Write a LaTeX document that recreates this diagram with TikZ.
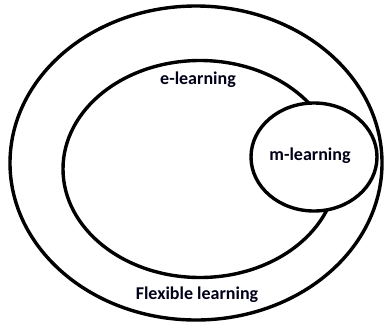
\documentclass[tikz,border=0pt]{standalone}
\usepackage{fontspec}
\setmainfont{Carlito}
\usepackage{tikz}
\usetikzlibrary{shapes.geometric,positioning}
\tikzset{
    set-ring/.style = {draw=black, line width=3.4pt, ellipse, inner sep=0pt},
    set-label/.style = {font=\fontsize{18}{20}\selectfont\bfseries, text=black!90!blue},
}

\begin{document}
\begin{tikzpicture}[x=1pt, y=-1pt]
\useasboundingbox (0,0) rectangle (385,322);
\node [set-ring, minimum width=372pt, minimum height=314pt] (flexible) at (196,163) {};
\node [set-ring, minimum width=274pt, minimum height=217pt] (elearn) at (200,169) {};
\node [set-ring, fill=white, minimum width=126pt, minimum height=108pt] (mlearn) at (314,157) {};
\node [set-label] (mlabel) at (310,156) {m-learning};
\node [set-label] (elabel) at (198,80) {e-learning};
\node [set-label] (flabel) at (197,295) {Flexible learning};
\end{tikzpicture}
\end{document}
